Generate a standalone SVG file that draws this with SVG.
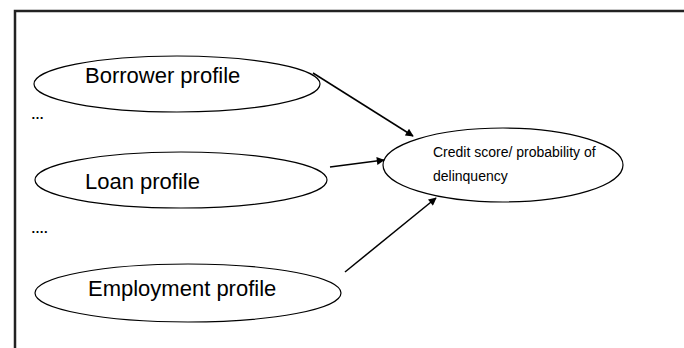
<svg xmlns="http://www.w3.org/2000/svg" width="684" height="348" viewBox="0 0 684 348">
<style>
.frame{fill:none;stroke:#222;stroke-width:2.5}
.node ellipse{fill:#fff;stroke:#000;stroke-width:1.2}
.big{font-family:"Liberation Sans",Arial,sans-serif;font-size:22px;fill:#000}
.small{font-family:"Liberation Sans",Arial,sans-serif;font-size:14px;fill:#000}
.dots{font-family:"Liberation Sans",Arial,sans-serif;font-size:13px;font-weight:bold;fill:#000}
.conn line{stroke:#000;stroke-width:1.5;marker-end:url(#ah)}
</style>
<defs>
<marker id="ah" viewBox="0 0 10 10" refX="9" refY="5" markerWidth="9" markerHeight="8" markerUnits="userSpaceOnUse" orient="auto">
<path d="M0,0 L10,5 L0,10 z" fill="#000"/>
</marker>
</defs>
<path class="frame" d="M15,348 V11 H684"/>
<text class="dots" x="31" y="119">…</text>
<text class="dots" x="31" y="233">….</text>
<g id="borrower" class="node">
<ellipse cx="177" cy="84" rx="143" ry="28"/>
<text class="big" x="85" y="83">Borrower profile</text>
</g>
<g id="loan" class="node">
<ellipse cx="181" cy="180" rx="146" ry="28"/>
<text class="big" x="85" y="189">Loan profile</text>
</g>
<g id="employment" class="node">
<ellipse cx="188" cy="293" rx="153" ry="29"/>
<text class="big" x="88" y="296">Employment profile</text>
</g>
<g id="credit" class="node">
<ellipse cx="503" cy="165" rx="120" ry="37"/>
<text class="small" x="433" y="157">Credit score/ probability of</text>
<text class="small" x="433" y="181">delinquency</text>
</g>
<g id="connectors" class="conn">
<line x1="313" y1="73" x2="413" y2="136"/>
<line x1="330" y1="167" x2="384" y2="160"/>
<line x1="345" y1="272" x2="436" y2="198"/>
</g>
</svg>
